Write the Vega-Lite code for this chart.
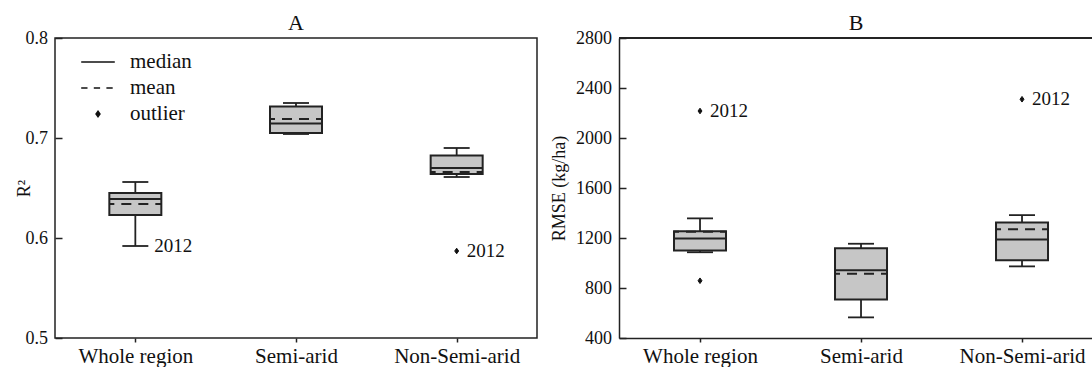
{
  "$schema": "https://vega.github.io/schema/vega-lite/v6.json",
  "padding": {"left": 14, "top": 11, "right": 0, "bottom": 0},
  "spacing": 12,
  "config": {
    "font": "Liberation Serif",
    "view": {"stroke": "#222", "strokeWidth": 1.5},
    "axis": {"grid": false, "labelColor": "#111", "titleColor": "#111", "tickColor": "#222", "domainColor": "#222", "tickWidth": 1.5, "domainWidth": 1.5, "labelFont": "Liberation Serif", "titleFont": "Liberation Serif", "titleFontWeight": "normal"},
    "title": {"font": "Liberation Serif", "fontWeight": "normal", "fontSize": 22, "color": "#111"}
  },
  "datasets": {
    "boxA": [
      {"cat": "Whole region", "lower": 0.592, "q1": 0.623, "median": 0.639, "mean": 0.634, "q3": 0.645, "upper": 0.656},
      {"cat": "Semi-arid", "lower": 0.704, "q1": 0.705, "median": 0.7146, "mean": 0.719, "q3": 0.7315, "upper": 0.735},
      {"cat": "Non-Semi-arid", "lower": 0.661, "q1": 0.664, "median": 0.670, "mean": 0.666, "q3": 0.6826, "upper": 0.690}
    ],
    "ptsA": [
      {"cat": "Non-Semi-arid", "value": 0.587, "label": "2012", "kind": "outlier"}
    ],
    "noteA": [
      {"cat": "Whole region", "value": 0.592, "label": "2012"}
    ],
    "boxB": [
      {"cat": "Whole region", "lower": 1086, "q1": 1101, "median": 1196, "mean": 1250, "q3": 1255, "upper": 1357},
      {"cat": "Semi-arid", "lower": 565, "q1": 709, "median": 943, "mean": 914, "q3": 1119, "upper": 1154},
      {"cat": "Non-Semi-arid", "lower": 973, "q1": 1023, "median": 1189, "mean": 1271, "q3": 1325, "upper": 1383}
    ],
    "ptsB": [
      {"cat": "Whole region", "value": 2216, "label": "2012"},
      {"cat": "Whole region", "value": 858, "label": ""},
      {"cat": "Non-Semi-arid", "value": 2310, "label": "2012"}
    ]
  },
  "hconcat": [
    {
      "width": 482,
      "height": 300,
      "title": {"text": "A", "offset": -6},
      "data": {"name": "boxA"},
      "encoding": {
        "x": {"field": "cat", "type": "nominal", "sort": ["Whole region", "Semi-arid", "Non-Semi-arid"], "scale": {"type": "point", "padding": 0.5},
          "axis": {"title": null, "labelAngle": 0, "labelFontSize": 21, "tickSize": 4, "labelPadding": 3, "domain": false}}
      },
      "layer": [
        {"mark": {"type": "rule", "color": "#222", "strokeWidth": 1.8},
         "encoding": {
           "y": {"field": "lower", "type": "quantitative", "scale": {"domain": [0.5, 0.8], "nice": false, "zero": false},
             "axis": {"title": "R²", "values": [0.5, 0.6, 0.7, 0.8], "format": ".1f", "labelFontSize": 18, "tickSize": -7, "labelPadding": 14.6, "domain": false, "titleFontSize": 18, "titleX": -31, "titleBaseline": "middle"}},
           "y2": {"field": "upper"}}},
        {"mark": {"type": "rule", "color": "#222", "strokeWidth": 1.8, "xOffset": -13, "x2Offset": 13},
         "encoding": {"x2": {"field": "cat"}, "y": {"field": "upper", "type": "quantitative"}}},
        {"mark": {"type": "rule", "color": "#222", "strokeWidth": 1.8, "xOffset": -13, "x2Offset": 13},
         "encoding": {"x2": {"field": "cat"}, "y": {"field": "lower", "type": "quantitative"}}},
        {"mark": {"type": "bar", "size": 52, "fill": "#c6c6c6", "stroke": "#222", "strokeWidth": 2},
         "encoding": {"y": {"field": "q1", "type": "quantitative"}, "y2": {"field": "q3"}}},
        {"mark": {"type": "rule", "color": "#222", "strokeWidth": 2, "xOffset": -26, "x2Offset": 26},
         "encoding": {"x2": {"field": "cat"}, "y": {"field": "median", "type": "quantitative"}}},
        {"mark": {"type": "rule", "color": "#222", "strokeWidth": 2, "xOffset": -26, "x2Offset": 26, "strokeDash": [10, 7], "strokeDashOffset": 5},
         "encoding": {"x2": {"field": "cat"}, "y": {"field": "mean", "type": "quantitative"}}},
        {"data": {"name": "ptsA"},
         "mark": {"type": "point", "filled": true, "color": "#111", "stroke": "#111", "strokeWidth": 1, "size": 784, "opacity": 1},
         "encoding": {
           "y": {"field": "value", "type": "quantitative"},
           "shape": {"field": "kind", "type": "nominal",
             "scale": {"domain": ["median", "mean", "outlier"], "range": ["M-1.2,0H1.2", "M-1.2,0H-0.75M-0.3,0H0.15M0.6,0H1.05", "M0,-0.2L0.14,0L0,0.2L-0.14,0Z"]},
             "legend": {"title": null, "orient": "none", "legendX": 28, "legendY": 9, "symbolSize": 784, "labelFontSize": 21, "labelOffset": 17, "rowPadding": 1, "padding": 0, "labelColor": "#111",
               "encode": {"symbols": {"update": {"stroke": {"value": "#222"}, "strokeWidth": {"value": 2}, "fill": {"value": "#222"}, "opacity": {"value": 1}}}}}}}},
        {"data": {"name": "ptsA"},
         "mark": {"type": "text", "align": "left", "baseline": "middle", "dx": 10, "fontSize": 19, "color": "#111"},
         "encoding": {"y": {"field": "value", "type": "quantitative"}, "text": {"field": "label"}}},
        {"data": {"name": "noteA"},
         "mark": {"type": "text", "align": "left", "baseline": "middle", "dx": 19, "fontSize": 19, "color": "#111"},
         "encoding": {"y": {"field": "value", "type": "quantitative"}, "text": {"field": "label"}}}
      ]
    },
    {
      "width": 474,
      "height": 300,
      "title": {"text": "B", "offset": -6},
      "view": {"stroke": null},
      "data": {"name": "boxB"},
      "layer": [
        {"mark": {"type": "rule", "color": "#222", "strokeWidth": 1.5},
         "encoding": {"y": {"datum": 2800, "type": "quantitative"}}},
        {"mark": {"type": "rule", "color": "#222", "strokeWidth": 1.8},
         "encoding": {
           "x": {"field": "cat", "type": "nominal", "sort": ["Whole region", "Semi-arid", "Non-Semi-arid"], "scale": {"type": "point", "padding": 0.472, "align": 0.533},
             "axis": {"title": null, "labelAngle": 0, "labelFontSize": 21, "tickSize": 4, "labelPadding": 3, "domain": true}},
           "y": {"field": "lower", "type": "quantitative", "scale": {"domain": [400, 2800], "nice": false, "zero": false},
             "axis": {"title": "RMSE (kg/ha)", "values": [400, 800, 1200, 1600, 2000, 2400, 2800], "format": "d", "labelFontSize": 18, "tickSize": -7, "labelPadding": 14.6, "domain": true, "titleFontSize": 18, "titleX": -60, "titleBaseline": "middle"}},
           "y2": {"field": "upper"}}},
        {"mark": {"type": "rule", "color": "#222", "strokeWidth": 1.8, "xOffset": -13, "x2Offset": 13},
         "encoding": {"x": {"field": "cat", "type": "nominal", "sort": ["Whole region", "Semi-arid", "Non-Semi-arid"]}, "x2": {"field": "cat"}, "y": {"field": "upper", "type": "quantitative"}}},
        {"mark": {"type": "rule", "color": "#222", "strokeWidth": 1.8, "xOffset": -13, "x2Offset": 13},
         "encoding": {"x": {"field": "cat", "type": "nominal", "sort": ["Whole region", "Semi-arid", "Non-Semi-arid"]}, "x2": {"field": "cat"}, "y": {"field": "lower", "type": "quantitative"}}},
        {"mark": {"type": "bar", "size": 52, "fill": "#c6c6c6", "stroke": "#222", "strokeWidth": 2},
         "encoding": {"x": {"field": "cat", "type": "nominal", "sort": ["Whole region", "Semi-arid", "Non-Semi-arid"]}, "y": {"field": "q1", "type": "quantitative"}, "y2": {"field": "q3"}}},
        {"mark": {"type": "rule", "color": "#222", "strokeWidth": 2, "xOffset": -26, "x2Offset": 26},
         "encoding": {"x": {"field": "cat", "type": "nominal", "sort": ["Whole region", "Semi-arid", "Non-Semi-arid"]}, "x2": {"field": "cat"}, "y": {"field": "median", "type": "quantitative"}}},
        {"mark": {"type": "rule", "color": "#222", "strokeWidth": 2, "xOffset": -26, "x2Offset": 26, "strokeDash": [10, 7], "strokeDashOffset": 5},
         "encoding": {"x": {"field": "cat", "type": "nominal", "sort": ["Whole region", "Semi-arid", "Non-Semi-arid"]}, "x2": {"field": "cat"}, "y": {"field": "mean", "type": "quantitative"}}},
        {"data": {"name": "ptsB"},
         "mark": {"type": "point", "filled": true, "color": "#111", "stroke": "#111", "strokeWidth": 1, "size": 784, "opacity": 1, "shape": "M0,-0.2L0.14,0L0,0.2L-0.14,0Z"},
         "encoding": {"x": {"field": "cat", "type": "nominal", "sort": ["Whole region", "Semi-arid", "Non-Semi-arid"]}, "y": {"field": "value", "type": "quantitative"}}},
        {"data": {"name": "ptsB"},
         "mark": {"type": "text", "align": "left", "baseline": "middle", "dx": 10, "fontSize": 19, "color": "#111"},
         "encoding": {"x": {"field": "cat", "type": "nominal", "sort": ["Whole region", "Semi-arid", "Non-Semi-arid"]}, "y": {"field": "value", "type": "quantitative"}, "text": {"field": "label"}}}
      ]
    }
  ]
}
